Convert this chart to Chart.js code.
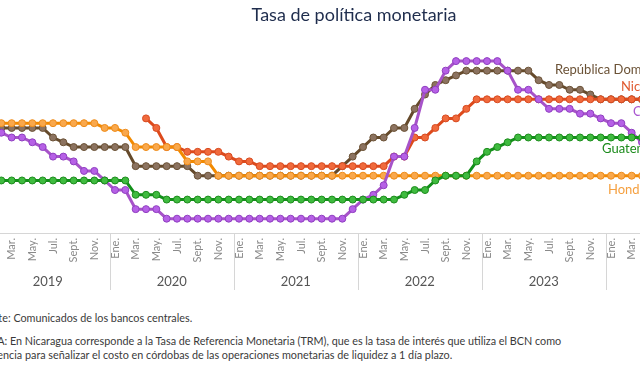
<!DOCTYPE html>
<html>
<head>
<meta charset="utf-8">
<script src="https://cdn.jsdelivr.net/npm/chart.js@4"></script>
<style>
  html, body { margin: 0; padding: 0; background: #fff; overflow: hidden; width: 640px; height: 369px; position: relative; }
  #wrap { position: absolute; left: -60px; top: 0; width: 810px; height: 300px; }
  .nota { position: absolute; left: -25px; font-family: Lato, sans-serif; font-size: 10.8px; color: #3a3a3a; white-space: nowrap; line-height: 14px; }
</style>
</head>
<body>
<div id="wrap"><canvas id="tpmChart"></canvas></div>
<div class="nota" style="top:311px">Fuente: Comunicados de los bancos centrales.</div>
<div class="nota" style="top:334px">NOTA: En Nicaragua corresponde a la Tasa de Referencia Monetaria (TRM), que es la tasa de interés que utiliza el BCN como<br>referencia para señalizar el costo en córdobas de las operaciones monetarias de liquidez a 1 día plazo.</div>
<script>
// -------------------------
// DATOS (mensual, ene. 2019 - abr. 2024)
// -------------------------

const years = ['2019', '2020', '2021', '2022', '2023', '2024'];
const monthNames = ['Ene.', 'Feb.', 'Mar.', 'Abr.', 'May.', 'Jun.', 'Jul.', 'Ago.', 'Sept.', 'Oct.', 'Nov.', 'Dic.'];

const guatemala = [
  2.75, 2.75, 2.75, 2.75, 2.75, 2.75, 2.75, 2.75, 2.75, 2.75, 2.75, 2.75,
  2.75, 2.75, 2.00, 2.00, 2.00, 1.75, 1.75, 1.75, 1.75, 1.75, 1.75, 1.75,
  1.75, 1.75, 1.75, 1.75, 1.75, 1.75, 1.75, 1.75, 1.75, 1.75, 1.75, 1.75,
  1.75, 1.75, 1.75, 1.75, 2.00, 2.25, 2.25, 2.75, 3.00, 3.00, 3.00, 3.75,
  4.25, 4.50, 4.75, 5.00, 5.00, 5.00, 5.00, 5.00, 5.00, 5.00, 5.00, 5.00,
  5.00, 5.00, 5.00, 5.00
];

const costaRica = [
  5.25, 5.25, 5.00, 5.00, 4.75, 4.50, 4.00, 4.00, 3.75, 3.25, 3.25, 2.75,
  2.25, 2.25, 1.25, 1.25, 1.25, 0.75, 0.75, 0.75, 0.75, 0.75, 0.75, 0.75,
  0.75, 0.75, 0.75, 0.75, 0.75, 0.75, 0.75, 0.75, 0.75, 0.75, 0.75, 1.25,
  1.75, 2.00, 2.50, 4.00, 4.00, 5.50, 7.50, 7.50, 8.50, 9.00, 9.00, 9.00,
  9.00, 9.00, 8.50, 7.50, 7.50, 7.00, 6.50, 6.50, 6.50, 6.25, 6.25, 6.00,
  5.75, 5.75, 5.25, 4.75
];

const honduras = [
  5.75, 5.75, 5.75, 5.75, 5.75, 5.75, 5.75, 5.75, 5.75, 5.75, 5.75, 5.50,
  5.50, 5.25, 4.50, 4.50, 4.50, 4.50, 4.50, 3.75, 3.75, 3.75, 3.00, 3.00,
  3.00, 3.00, 3.00, 3.00, 3.00, 3.00, 3.00, 3.00, 3.00, 3.00, 3.00, 3.00,
  3.00, 3.00, 3.00, 3.00, 3.00, 3.00, 3.00, 3.00, 3.00, 3.00, 3.00, 3.00,
  3.00, 3.00, 3.00, 3.00, 3.00, 3.00, 3.00, 3.00, 3.00, 3.00, 3.00, 3.00,
  3.00, 3.00, 3.00, 3.00
];

const nicaragua = [
  null, null, null, null, null, null, null, null, null, null, null, null,
  null, null, null, 6.00, 5.50, 4.50, 4.50, 4.25, 4.25, 4.25, 4.25, 4.00,
  3.75, 3.75, 3.50, 3.50, 3.50, 3.50, 3.50, 3.50, 3.50, 3.50, 3.50, 3.50,
  3.50, 3.50, 3.50, 4.00, 4.00, 5.00, 5.00, 5.50, 6.00, 6.00, 6.50, 7.00,
  7.00, 7.00, 7.00, 7.00, 7.00, 7.00, 7.00, 7.00, 7.00, 7.00, 7.00, 7.00,
  7.00, 7.00, 7.00, 7.00
];

const repDominicana = [
  5.50, 5.50, 5.50, 5.50, 5.50, 5.50, 5.00, 4.75, 4.50, 4.50, 4.50, 4.50,
  4.50, 4.50, 3.50, 3.50, 3.50, 3.50, 3.50, 3.50, 3.00, 3.00, 3.00, 3.00,
  3.00, 3.00, 3.00, 3.00, 3.00, 3.00, 3.00, 3.00, 3.00, 3.00, 3.50, 4.00,
  4.50, 5.00, 5.00, 5.50, 5.50, 6.50, 7.25, 7.75, 8.00, 8.25, 8.50, 8.50,
  8.50, 8.50, 8.50, 8.50, 8.50, 8.00, 7.75, 7.75, 7.50, 7.50, 7.25, 7.00,
  7.00, 7.00, 7.00, 7.00
];

// categorias mes-año
const categories = [];
for (let i = 0; i < guatemala.length; i++) {
  categories.push(monthNames[i % 12] + ' ' + years[Math.floor(i / 12)]);
}

// -------------------------
// ETIQUETAS Y SEPARADORES
// -------------------------

const seriesLabels = [
  { text: 'República Dominicana', color: '#6b5236', dx: -87, y: 70 },
  { text: 'Nicaragua', color: '#e05a30', dx: -21, y: 87 },
  { text: 'Costa Rica', color: '#a855d0', dx: -9, y: 112 },
  { text: 'Guatemala', color: '#1a8a1a', dx: -40, y: 149 },
  { text: 'Honduras', color: '#f5a040', dx: -34, y: 190 }
];

const decorPlugin = {
  id: 'decor',
  afterDraw(chart) {
    const ctx = chart.ctx;
    const xs = chart.scales.x;
    const area = chart.chartArea;
    const step = xs.getPixelForValue(1) - xs.getPixelForValue(0);

    ctx.save();
    // titulo
    ctx.fillStyle = '#1f2d4d';
    ctx.font = '18px Lato, sans-serif';
    ctx.textAlign = 'center';
    ctx.textBaseline = 'middle';
    ctx.fillText('Tasa de política monetaria', 414, 15);

    // separadores de año + etiquetas de año
    ctx.strokeStyle = '#d6d6d6';
    ctx.lineWidth = 1;
    const seps = years.map((y, i) => xs.getPixelForValue(i * 12) - step / 2);
    seps.forEach(x => {
      ctx.beginPath();
      ctx.moveTo(Math.round(x) + 0.5, area.bottom);
      ctx.lineTo(Math.round(x) + 0.5, area.bottom + 57);
      ctx.stroke();
    });
    ctx.fillStyle = '#555';
    ctx.font = '13px Lato, sans-serif';
    years.forEach((y, i) => {
      const x0 = seps[i];
      const x1 = x0 + 12 * step;
      ctx.fillText(y, (x0 + x1) / 2, area.bottom + 49);
    });

    // nombres de países
    ctx.textAlign = 'left';
    ctx.font = '13px Lato, sans-serif';
    seriesLabels.forEach(l => {
      ctx.fillStyle = l.color;
      ctx.fillText(l.text, area.right + l.dx, l.y);
    });
    ctx.restore();
  }
};

function serie(label, data, line, fill, border) {
  return {
    label: label,
    data: data,
    borderColor: line,
    backgroundColor: fill,
    borderWidth: 3,
    pointRadius: 3.5,
    pointBorderWidth: 1,
    pointBackgroundColor: fill,
    pointBorderColor: border,
    tension: 0,
    spanGaps: false
  };
}

new Chart(document.getElementById('tpmChart'), {
  type: 'line',
  data: {
    labels: categories,
    datasets: [
      serie('Guatemala', guatemala, '#12901a', '#3fbb3f', '#1d8c1d'),
      serie('Costa Rica', costaRica, '#a753c9', '#b660e6', '#8f3fc0'),
      serie('Honduras', honduras, '#f28a00', '#f9a84c', '#ee8c1a'),
      serie('Nicaragua', nicaragua, '#dd4a1c', '#f06a3c', '#d84a20'),
      serie('República Dominicana', repDominicana, '#654a2b', '#8c7360', '#6b5236')
    ]
  },
  options: {
    responsive: true,
    maintainAspectRatio: false,
    animation: false,
    layout: { autoPadding: false, padding: { left: 51, right: 108, top: 42, bottom: 0 } },
    plugins: {
      legend: { display: false },
      title: { display: false },
      tooltip: { enabled: false }
    },
    scales: {
      x: {
        offset: false,
        grid: { display: false, drawTicks: false },
        border: { display: true, color: '#d6d6d6', width: 1 },
        ticks: {
          autoSkip: false,
          maxRotation: 90,
          minRotation: 90,
          padding: 5,
          color: '#8a8a8a',
          font: { family: 'Lato, sans-serif', size: 11 },
          callback: (v, i) => (i % 2 === 0 ? monthNames[i % 12] : '')
        },
        afterFit: s => { s.height = 67; }
      },
      y: {
        display: false,
        min: 0,
        max: 10
      }
    }
  },
  plugins: [decorPlugin]
});
</script>
</body>
</html>
